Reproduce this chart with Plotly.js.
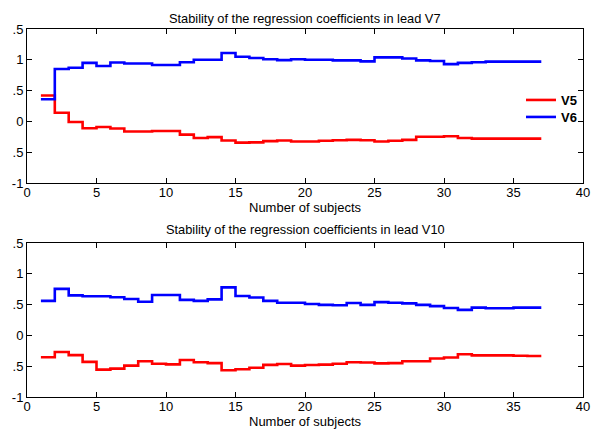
<!DOCTYPE html>
<html>
<head>
<meta charset="utf-8">
<script src="https://cdn.plot.ly/plotly-3.0.1.min.js"></script>
<style>html,body{margin:0;padding:0;background:#fff;}#chart{width:608px;height:432px;}</style>
</head>
<body>
<div id="chart"></div>
<script>
// Number of subjects (step positions)
const subjects = [1,2,3,4,5,6,7,8,9,10,11,12,13,14,15,16,17,18,19,20,21,22,23,24,25,26,27,28,29,30,31,32,33,34,35,36,37];

// Lead V7 coefficients
const v7_V5 = [0.42,0.14,-0.01,-0.11,-0.09,-0.115,-0.165,-0.165,-0.155,-0.155,-0.215,-0.27,-0.255,-0.31,-0.345,-0.34,-0.32,-0.31,-0.325,-0.325,-0.315,-0.305,-0.30,-0.305,-0.325,-0.315,-0.30,-0.25,-0.25,-0.24,-0.27,-0.28,-0.28,-0.28,-0.28,-0.28,-0.28];
const v7_V6 = [0.36,0.85,0.87,0.95,0.90,0.955,0.94,0.94,0.915,0.915,0.96,1.0,1.0,1.11,1.05,1.03,1.01,0.995,1.01,1.0,1.0,0.99,0.99,0.975,1.04,1.04,1.02,0.99,0.98,0.93,0.95,0.96,0.97,0.97,0.97,0.97,0.97];

// Lead V10 coefficients
const v10_V5 = [-0.355,-0.27,-0.32,-0.43,-0.555,-0.54,-0.49,-0.42,-0.46,-0.47,-0.40,-0.435,-0.45,-0.565,-0.55,-0.525,-0.478,-0.465,-0.49,-0.48,-0.475,-0.46,-0.435,-0.44,-0.455,-0.45,-0.42,-0.42,-0.375,-0.36,-0.305,-0.325,-0.325,-0.325,-0.33,-0.335,-0.335];
const v10_V6 = [0.56,0.755,0.65,0.636,0.636,0.62,0.59,0.545,0.655,0.655,0.576,0.56,0.585,0.78,0.64,0.615,0.56,0.53,0.53,0.51,0.495,0.49,0.525,0.495,0.54,0.53,0.52,0.495,0.475,0.445,0.415,0.45,0.44,0.44,0.45,0.45,0.45];

const seriesNames = ['V5','V6'];
const titles = ['Stability of the regression coefficients in lead V7','Stability of the regression coefficients in lead V10'];
const xTitle = 'Number of subjects';
const yTickVals = [-1,-0.5,0,0.5,1,1.5];
const yTickText = ['-1','.5','0','.5','1','.5'];
const xTickVals = [0,5,10,15,20,25,30,35,40];

const FONT = 'Liberation Sans, Arial, Helvetica, sans-serif';
const RED = '#ff0000', BLUE = '#0000ff';

function tr(y, name, color, xa, ya, show, lg){
  return {x: subjects, y: y, name: name, type: 'scatter', mode: 'lines',
    line: {shape: 'hv', color: color, width: 2.6}, xaxis: xa, yaxis: ya, showlegend: show, legend: lg};
}
const data = [
  tr(v7_V5, seriesNames[0], RED, 'x', 'y', true, 'legend'),
  tr(v7_V6, seriesNames[1], BLUE, 'x', 'y', true, 'legend2'),
  tr(v10_V5, seriesNames[0], RED, 'x2', 'y2', false, 'legend'),
  tr(v10_V6, seriesNames[1], BLUE, 'x2', 'y2', false, 'legend2')
];

function xax(anchor){
  return {anchor: anchor, domain: [0,1], range: [0,40], tickvals: xTickVals, ticks: 'inside', ticklen: 5,
    tickcolor: '#000', showline: true, linecolor: '#000', linewidth: 1, mirror: 'ticks', showgrid: false, zeroline: false,
    ticklabelstandoff: -3,
    tickfont: {family: FONT, size: 13, color: '#000'},
    title: {text: xTitle, font: {family: FONT, size: 13, color: '#000'}, standoff: 2}};
}
function yax(anchor, dom){
  return {anchor: anchor, domain: dom, range: [-1,1.5], tickvals: yTickVals, ticktext: yTickText, ticks: 'inside', ticklen: 5,
    tickcolor: '#000', showline: true, linecolor: '#000', linewidth: 1, mirror: 'ticks', showgrid: false, zeroline: false,
    tickfont: {family: FONT, size: 13, color: '#000'}};
}
function lg(ypx){
  return {x: 0.8885, xanchor: 'left', y: (397 - ypx) / 368, yanchor: 'middle', bgcolor: 'rgba(0,0,0,0)', borderwidth: 0,
    font: {family: FONT, size: 13, color: '#000', weight: 'bold'}, itemwidth: 30};
}

const layout = {
  width: 608, height: 432,
  margin: {l: 27, r: 25, t: 29, b: 35},
  paper_bgcolor: '#fff', plot_bgcolor: '#fff',
  font: {family: FONT, color: '#000'},
  xaxis: xax('y'), yaxis: yax('x', [0.5815, 1]),
  xaxis2: xax('y2'), yaxis2: yax('x2', [0, 0.4185]),
  showlegend: true,
  legend: lg(100),
  legend2: lg(117),
  annotations: [
    {text: titles[0], xref: 'paper', yref: 'paper', x: 0.5, y: 1, yshift: 11, xanchor: 'center', yanchor: 'middle', showarrow: false, font: {family: FONT, size: 12.8, color: '#000'}},
    {text: titles[1], xref: 'paper', yref: 'paper', x: 0.5, y: 0.4185, yshift: 13, xanchor: 'center', yanchor: 'middle', showarrow: false, font: {family: FONT, size: 12.8, color: '#000'}}
  ]
};

Plotly.newPlot('chart', data, layout, {staticPlot: true, displayModeBar: false});
</script>
</body>
</html>
